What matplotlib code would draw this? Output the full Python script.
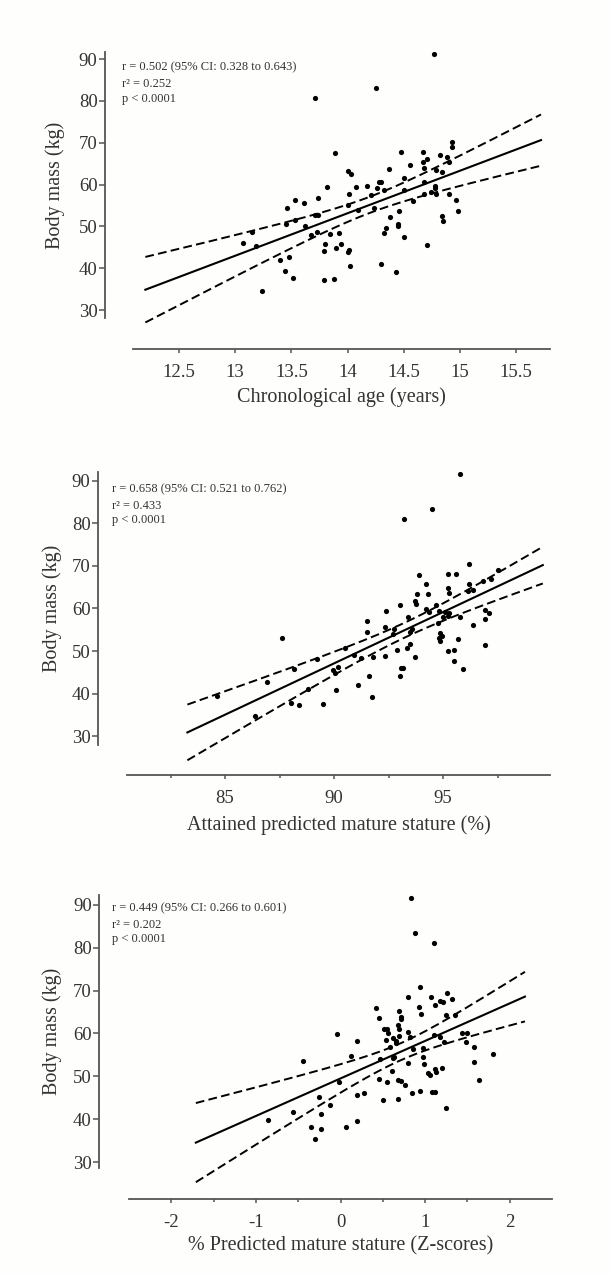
import numpy as np
import matplotlib
matplotlib.use("Agg")
import matplotlib.pyplot as plt

plt.rcParams['font.family'] = ['Liberation Serif', 'DejaVu Serif']
plt.rcParams['axes.unicode_minus'] = False

# --- data ---
age = [14.77, 14.25, 13.71, 13.89, 14.93, 14.93, 14.88, 14.82, 14.90, 14.67,
       14.71, 14.67, 14.68, 14.79, 14.84, 14.47, 14.55, 14.37, 14.50, 14.00,
       14.03, 13.82, 14.07, 14.17, 14.01, 14.28, 14.30, 14.26, 14.32, 14.21,
       14.50, 14.68, 14.78, 14.78, 14.74, 14.68, 14.79, 14.90, 14.96, 14.98,
       14.58, 14.84, 14.85, 13.74, 13.53, 13.61, 13.46, 14.00, 14.09, 14.23,
       14.46, 14.38, 14.45, 14.45, 14.34, 14.32, 14.50, 14.71, 13.71, 13.74,
       13.53, 13.45, 13.62, 13.15, 13.07, 13.18, 13.67, 13.73, 13.84, 13.92,
       13.80, 13.94, 13.90, 13.79, 14.01, 14.00, 13.40, 13.48, 14.02, 14.30,
       13.44, 13.51, 13.79, 13.88, 14.43, 13.24]
mass_age = [91.2, 83.0, 80.6, 67.5, 70.1, 68.9, 66.6, 67.0, 65.4, 67.9,
            66.2, 65.4, 63.9, 63.4, 63.0, 67.9, 64.6, 63.7, 61.5, 63.3,
            62.6, 59.5, 59.5, 59.7, 57.8, 60.5, 60.5, 59.1, 58.6, 57.5,
            58.8, 60.5, 59.6, 59.1, 58.3, 57.8, 57.8, 57.8, 56.3, 53.7,
            56.0, 52.5, 51.2, 56.9, 56.2, 55.5, 54.5, 55.0, 54.0, 54.3,
            53.6, 52.2, 50.6, 50.2, 49.6, 48.4, 47.5, 45.6, 52.8, 52.8,
            51.5, 50.6, 50.1, 48.6, 46.1, 45.3, 48.0, 48.7, 48.1, 48.5,
            45.9, 45.8, 44.9, 44.0, 44.3, 43.8, 42.0, 42.6, 40.6, 41.0,
            39.3, 37.6, 37.2, 37.4, 39.0, 34.5]

stature = [95.78, 94.50, 93.21, 96.19, 93.91, 95.21, 95.60, 94.21, 93.81, 94.30,
           95.21, 95.29, 96.19, 96.16, 96.85, 97.19, 97.51, 96.36, 93.72, 93.76,
           93.00, 92.40, 94.22, 94.33, 94.68, 94.79, 95.09, 95.29, 94.97, 95.21,
           95.78, 94.76, 96.39, 96.93, 97.08, 96.90, 96.90, 93.38, 93.56, 93.49,
           92.75, 92.72, 92.31, 91.50, 91.50, 94.86, 94.94, 94.79, 94.86, 95.70,
           93.46, 93.36, 92.89, 93.69, 92.31, 91.77, 95.21, 95.50, 95.50, 95.90,
           87.60, 90.50, 89.22, 88.15, 86.91, 90.92, 91.22, 89.97, 90.18, 90.05,
           91.62, 93.07, 93.18, 93.00, 91.10, 90.09, 91.73, 88.78, 88.01, 88.41,
           89.51, 86.39, 84.65]
mass_stature = [91.6, 83.3, 81.0, 70.5, 67.8, 68.2, 68.2, 65.7, 63.5, 63.4,
                64.9, 63.6, 65.8, 64.2, 66.5, 67.0, 69.1, 64.4, 61.8, 61.1,
                60.75, 59.5, 59.9, 59.25, 60.75, 59.5, 59.1, 58.9, 58.0, 58.2,
                58.1, 56.7, 56.2, 59.65, 59.0, 57.5, 51.3, 57.9, 55.25, 54.5,
                55.1, 53.9, 55.7, 57.1, 54.5, 54.2, 53.5, 53.0, 52.4, 52.75,
                51.65, 50.6, 50.3, 48.5, 48.75, 48.7, 49.9, 50.2, 47.7, 45.8,
                53.1, 50.6, 48.2, 45.8, 42.8, 49.0, 48.4, 45.5, 46.2, 44.75,
                44.1, 46.0, 46.0, 44.05, 42.1, 40.8, 39.25, 41.1, 37.8, 37.3,
                37.6, 34.8, 39.5]

zscore = [0.83, 0.88, 1.10, 0.94, 0.80, 1.07, 1.26, 1.32, 1.18, 1.21,
          1.12, 0.42, 0.45, 0.69, 0.71, 0.72, 0.93, 0.955, 1.25, 1.35,
          0.68, 0.69, 0.51, 0.55, 0.56, 0.80, 0.82, 0.62, 0.54, 0.65,
          0.69, 0.59, 0.66, 1.10, 1.18, 1.22, 1.44, 1.50, 1.48, 1.58,
          1.80, 0.86, 0.97, 0.97, 0.63, 0.47, 0.62, 0.80, 0.99, 1.58,
          -0.04, 0.20, -0.44, 0.12, 1.03, 1.06, 1.12, 1.13, 1.20, 0.61,
          0.46, 0.55, 0.68, 0.72, 0.76, 1.64, -0.02, 0.85, 0.94, 1.08,
          1.12, 1.25, 0.19, 0.28, 0.50, 0.68, -0.25, -0.13, -0.23, -0.56,
          -0.86, 0.19, -0.35, -0.23, 0.07, -0.30]
mass_z = [91.7, 83.5, 81.1, 70.8, 68.5, 68.5, 69.5, 68.0, 67.6, 67.3,
          66.7, 65.9, 63.7, 65.2, 63.9, 63.3, 66.1, 64.5, 64.4, 64.3,
          62.0, 61.0, 61.0, 61.0, 60.2, 60.3, 59.1, 58.9, 58.5, 58.2,
          59.4, 56.9, 57.8, 59.6, 59.2, 58.1, 60.0, 60.0, 57.9, 56.8,
          55.1, 56.3, 56.5, 54.6, 54.6, 54.0, 54.2, 53.0, 52.8, 53.25,
          59.8, 58.3, 53.5, 54.8, 50.7, 50.4, 51.6, 50.9, 52.0, 51.2,
          49.3, 48.6, 49.1, 48.95, 48.0, 49.2, 48.6, 46.2, 46.6, 46.4,
          46.4, 42.5, 45.6, 46.0, 44.5, 44.6, 45.1, 43.2, 41.2, 41.6,
          39.8, 39.6, 38.2, 37.8, 38.1, 35.3]

stats_age = ["r = 0.502 (95% CI: 0.328 to 0.643)", "r² = 0.252", "p < 0.0001"]
stats_stature = ["r = 0.658 (95% CI: 0.521 to 0.762)", "r² = 0.433", "p < 0.0001"]
stats_z = ["r = 0.449 (95% CI: 0.266 to 0.601)", "r² = 0.202", "p < 0.0001"]

xlabels = ["Chronological age (years)",
           "Attained predicted mature stature (%)",
           "% Predicted mature stature (Z-scores)"]

xticks_age = [12.5, 13, 13.5, 14, 14.5, 15, 15.5]
xticklabels_age = ["12.5", "13", "13.5", "14", "14.5", "15", "15.5"]
xticks_stature = [85, 90, 95]
xminor_stature = [82.5, 87.5, 92.5, 97.5]
xticks_z = [-2, -1, 0, 1, 2]
xminor_z = [-1.5, -0.5, 0.5, 1.5]
yticks = [30, 40, 50, 60, 70, 80, 90]

# x range covered by the regression line in each panel
line_age = [12.2, 15.72]
line_stature = [83.27, 99.57]
line_z = [-1.71, 2.18]

T95 = 1.99  # t critical value, ~85 df


def fit_with_band(x, y, xr):
    x = np.asarray(x)
    y = np.asarray(y)
    b, a = np.polyfit(x, y, 1)
    n = len(x)
    resid = y - (a + b * x)
    s = np.sqrt(np.sum(resid ** 2) / (n - 2))
    sxx = np.sum((x - x.mean()) ** 2)
    xs = np.linspace(xr[0], xr[1], 200)
    yhat = a + b * xs
    half = T95 * s * np.sqrt(1.0 / n + (xs - x.mean()) ** 2 / sxx)
    return xs, yhat, yhat - half, yhat + half


fig = plt.figure(figsize=(6.12, 12.75), dpi=100)
fig.patch.set_facecolor('#fefefc')

panels = [
    # axes rect, xlim, ylim, spine offsets (pt)
    dict(rect=[0.2173, 0.7506, 0.6814, 0.2086], xlim=(12.09, 15.80), ylim=(28.1, 91.7),
         off=(20.2, 22.3), x=age, y=mass_age, xr=line_age, stats=stats_age,
         xt=xticks_age, xtl=xticklabels_age, xm=None,
         ylab=-0.187, xlab=-0.297, tx=-0.026, ty=[0.941, 0.880, 0.822]),
    dict(rect=[0.2075, 0.4157, 0.6912, 0.2141], xlim=(80.5, 99.9), ylim=(27.9, 92.1),
         off=(20.9, 21.6), x=stature, y=mass_stature, xr=line_stature, stats=stats_stature,
         xt=xticks_stature, xtl=[str(v) for v in xticks_stature], xm=xminor_stature,
         ylab=-0.177, xlab=-0.293, tx=-0.035, ty=[0.938, 0.875, 0.824]),
    dict(rect=[0.2108, 0.0839, 0.6912, 0.2141], xlim=(-2.5, 2.5), ylim=(28.6, 92.3),
         off=(21.6, 22.3), x=zscore, y=mass_z, xr=line_z, stats=stats_z,
         xt=xticks_z, xtl=[str(v) for v in xticks_z], xm=xminor_z,
         ylab=-0.182, xlab=-0.286, tx=-0.040, ty=[0.951, 0.890, 0.838]),
]

spine_col = '#555555'
text_col = '#333333'

for i, p in enumerate(panels):
    ax = fig.add_axes(p['rect'])
    ax.set_facecolor('none')
    ax.scatter(p['x'], p['y'], s=14, color='black', linewidths=0, zorder=3)

    xs, yhat, lo, hi = fit_with_band(p['x'], p['y'], p['xr'])
    ax.plot(xs, yhat, color='black', lw=1.5, clip_on=False)
    ax.plot(xs, lo, color='black', lw=1.4, dashes=(4.5, 2.2), clip_on=False)
    ax.plot(xs, hi, color='black', lw=1.4, dashes=(4.5, 2.2), clip_on=False)

    ax.set_xlim(*p['xlim'])
    ax.set_ylim(*p['ylim'])

    for s in ['top', 'right']:
        ax.spines[s].set_visible(False)
    ax.spines['left'].set_position(('outward', p['off'][0]))
    ax.spines['bottom'].set_position(('outward', p['off'][1]))
    for s in ['left', 'bottom']:
        ax.spines[s].set_color(spine_col)
        ax.spines[s].set_linewidth(1.3)

    ax.set_yticks(yticks)
    ax.set_xticks(p['xt'])
    ax.set_xticklabels(p['xtl'])
    if p['xm'] is not None:
        ax.set_xticks(p['xm'], minor=True)
    ax.tick_params(axis='y', length=4.3, width=1.1, pad=1, color=spine_col,
                   labelsize=13.5, labelcolor=text_col)
    ax.tick_params(axis='x', which='major', length=3, width=1.1, pad=7.5,
                   color=spine_col, labelsize=13.5, labelcolor=text_col)
    ax.tick_params(axis='x', which='minor', length=2.5, width=1.1, color=spine_col)

    ax.set_ylabel("Body mass (kg)", fontsize=14.5, color=text_col, va='center')
    ax.yaxis.set_label_coords(p['ylab'], 0.5)
    ax.set_xlabel(xlabels[i], fontsize=14.5, color=text_col, va='center')
    ax.xaxis.set_label_coords(0.5, p['xlab'])

    for line, yy in zip(p['stats'], p['ty']):
        ax.text(p['tx'], yy, line, transform=ax.transAxes, fontsize=9,
                color=text_col, va='center', ha='left')

fig.savefig("out.png", dpi=100, facecolor=fig.get_facecolor())
